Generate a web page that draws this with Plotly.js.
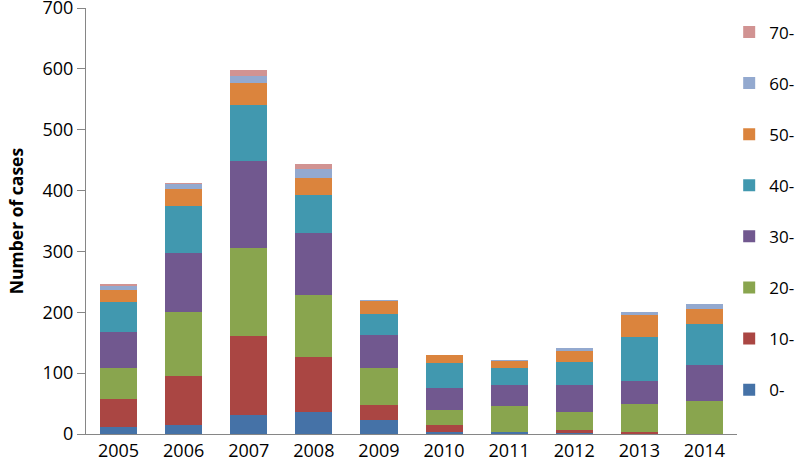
<!DOCTYPE html>
<html>
<head>
<meta charset="utf-8">
<script src="https://cdn.plot.ly/plotly-3.0.1.min.js"></script>
<style>html,body{margin:0;padding:0;background:#fff}#chart{width:800px;height:463px}</style>
</head>
<body>
<div id="chart"></div>
<script>
var years = ['2005','2006','2007','2008','2009','2010','2011','2012','2013','2014'];
var ageGroups = ['0-','10-','20-','30-','40-','50-','60-','70-'];
var age0  = [11, 15, 32, 36, 23, 4, 3, 1, 0, 0];
var age10 = [47, 81, 129, 90, 24, 10, 1, 6, 4, 0];
var age20 = [51, 104, 145, 102, 61, 26, 42, 29, 46, 54];
var age30 = [59, 98, 142, 103, 54, 36, 35, 44, 37, 59];
var age40 = [49, 76, 93, 62, 35, 41, 27, 39, 72, 68];
var age50 = [20, 29, 36, 28, 21, 12, 12, 18, 37, 24];
var age60 = [7, 7, 12, 14, 2, 0, 2, 4, 5, 9];
var age70 = [3, 2, 9, 9, 0, 0, 0, 0, 0, 0];
var seriesValues = [age0, age10, age20, age30, age40, age50, age60, age70];
var colors = ['#4572A7','#AA4643','#89A54E','#71588F','#4198AF','#DB843D','#93A9CF','#D19392'];

var traces = ageGroups.map(function(name, i){
  return {
    type: 'bar', name: name, x: years, y: seriesValues[i],
    marker: {color: colors[i], line: {width: 0}},
    legendgroup: 'g' + i,
    legendrank: 100 - i
  };
});

var font = '"Open Sans", Lato, sans-serif';
var layout = {
  width: 800, height: 463,
  barmode: 'stack', bargap: 0.43,
  paper_bgcolor: '#fff', plot_bgcolor: '#fff',
  margin: {l: 86, r: 63, t: 8, b: 29, autoexpand: false},
  font: {family: font, size: 18, color: '#000'},
  xaxis: {
    type: 'category', showgrid: false, showline: true, linecolor: '#868686', linewidth: 1,
    ticks: '', tickfont: {size: 18, family: font}, zeroline: false
  },
  yaxis: {
    range: [0, 700], dtick: 100, showgrid: false, showline: true, linecolor: '#868686', linewidth: 1,
    ticks: 'outside', ticklen: 8, tickcolor: '#868686', tickfont: {size: 18, family: font}, zeroline: false,
    ticklabeloverflow: 'allow',
    title: {text: '<b>Number of cases</b>', font: {size: 17.5, family: font}, standoff: 14}
  },
  legend: {
    x: 0.988, xanchor: 'left', y: 0.985, yanchor: 'top',
    traceorder: 'grouped', tracegroupgap: 26,
    font: {size: 17, family: font}, bgcolor: 'rgba(0,0,0,0)'
  },
  showlegend: true
};

Plotly.newPlot('chart', traces, layout, {staticPlot: true, displayModeBar: false});
</script>
</body>
</html>
